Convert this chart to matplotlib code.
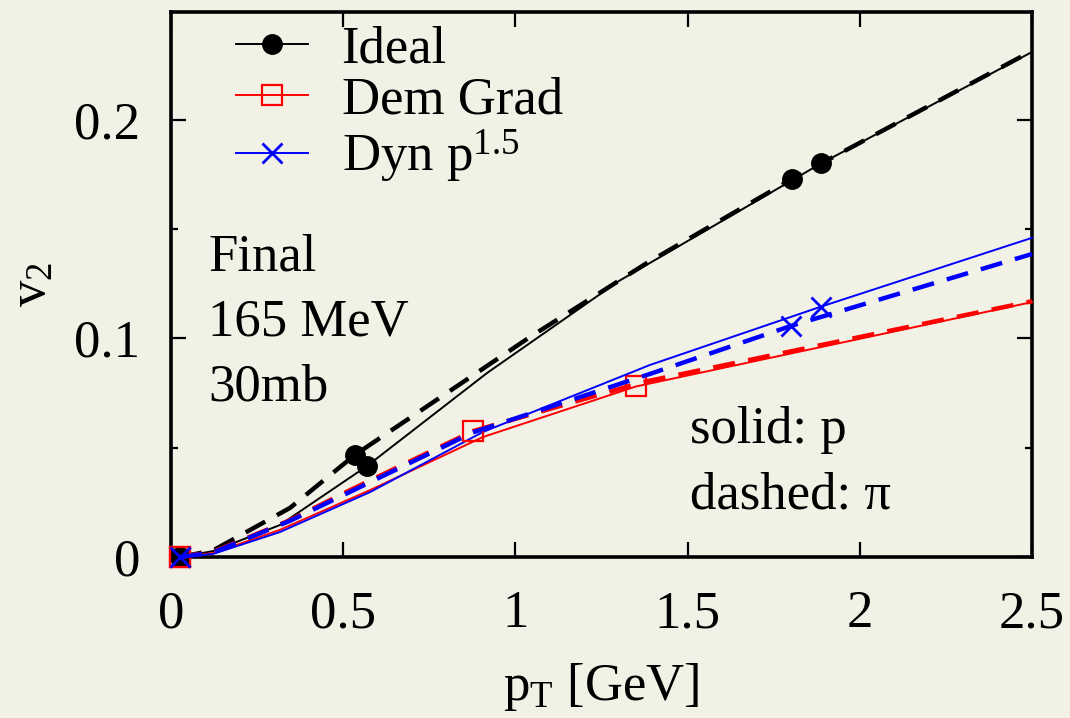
import matplotlib
matplotlib.use("Agg")
import matplotlib.pyplot as plt
from matplotlib.lines import Line2D

plt.rcParams['font.family'] = ['Liberation Serif', 'DejaVu Serif']
plt.rcParams['mathtext.fontset'] = 'custom'
plt.rcParams['mathtext.rm'] = 'Liberation Serif'
plt.rcParams['mathtext.it'] = 'Liberation Serif:italic'
plt.rcParams['mathtext.default'] = 'rm'

# ---------------- data ----------------
# Ideal
ideal_p_x = [0.026, 0.122, 0.316, 0.569, 0.918, 1.30, 1.887, 2.5]
ideal_p_y = [0.0, 0.0027, 0.0146, 0.0416, 0.0842, 0.1262, 0.1800, 0.231]
ideal_p_mark = [0, 3, 6]
ideal_pi_x = [0.026, 0.122, 0.345, 0.534, 1.042, 1.382, 1.803, 2.5]
ideal_pi_y = [0.0, 0.003, 0.0224, 0.0467, 0.1006, 0.1345, 0.1729, 0.2315]
ideal_pi_mark = [0, 3, 6]
# Dem Grad
dem_p_x = [0.026, 0.122, 0.316, 0.578, 0.906, 1.35, 2.5]
dem_p_y = [0.0, 0.0018, 0.0124, 0.0306, 0.0549, 0.0780, 0.1166]
dem_p_mark = [0, 5]
dem_pi_x = [0.026, 0.122, 0.345, 0.52, 0.877, 1.37, 2.5]
dem_pi_y = [0.0, 0.0023, 0.0168, 0.0306, 0.0576, 0.0800, 0.1170]
dem_pi_mark = [0, 4]
# Dyn p^1.5
dyn_p_x = [0.026, 0.122, 0.316, 0.578, 0.906, 1.39, 1.887, 2.5]
dyn_p_y = [0.0, 0.0014, 0.0114, 0.0297, 0.0572, 0.0878, 0.1145, 0.146]
dyn_p_mark = [0, 6]
dyn_pi_x = [0.026, 0.122, 0.345, 0.52, 0.877, 1.39, 1.80, 2.5]
dyn_pi_y = [0.0, 0.0020, 0.0165, 0.0298, 0.0570, 0.0837, 0.1057, 0.1386]
dyn_pi_mark = [0, 6]

legend_labels = ['Ideal', 'Dem Grad', 'Dyn p$^{1.5}$']
x_ticks = [0, 0.5, 1, 1.5, 2, 2.5]
x_ticklabels = ['0', '0.5', '1', '1.5', '2', '2.5']
y_ticks = [0, 0.1, 0.2]
y_ticklabels = ['0', '0.1', '0.2']
y_minor = [0.05, 0.15]

# ---------------- figure ----------------
bg = '#f2f1e6'
fig = plt.figure(figsize=(10.7, 7.18), dpi=100, facecolor=bg)
ax = fig.add_axes([171/1070, 1 - 557/718, (1032-171)/1070, (557-12)/718])
ax.set_facecolor(bg)

FS = 38
lw_s = 1.4
lw_d = 3.2
dash = (5, 3)

circ = dict(marker='o', ms=14, mfc='black', mec='black')
sq = dict(marker='s', ms=15, mfc='none', mec='red', mew=1.6)
crs = dict(marker='x', ms=15, mec='blue', mew=2.0)

ax.plot(ideal_p_x, ideal_p_y, color='black', lw=lw_s, markevery=ideal_p_mark, clip_on=False, **circ)
ax.plot(dem_p_x, dem_p_y, color='red', lw=lw_s, markevery=dem_p_mark, clip_on=False, **sq)
ax.plot(dyn_p_x, dyn_p_y, color='blue', lw=lw_s, markevery=dyn_p_mark, clip_on=False, **crs)
ax.plot(ideal_pi_x, ideal_pi_y, color='black', lw=lw_d, dashes=dash, markevery=ideal_pi_mark, clip_on=False, **circ)
ax.plot(dem_pi_x, dem_pi_y, color='red', lw=lw_d, dashes=dash, markevery=dem_pi_mark, clip_on=False, **sq)
ax.plot(dyn_pi_x, dyn_pi_y, color='blue', lw=lw_d, dashes=dash, markevery=dyn_pi_mark, clip_on=False, **crs)

ax.set_xlim(0, 2.5)
ax.set_ylim(0, 0.2493)

ax.set_xticks(x_ticks)
ax.set_xticklabels(x_ticklabels, fontsize=FS)
ax.set_yticks(y_ticks)
ax.set_yticklabels(y_ticklabels, fontsize=FS)
ax.set_yticks(y_minor, minor=True)
ax.tick_params(axis='both', which='major', direction='in', length=11, width=1.6,
               top=True, right=True, colors='black')
ax.tick_params(axis='x', which='major', pad=24)
ax.tick_params(axis='y', which='major', pad=22)
ax.tick_params(axis='y', which='minor', direction='in', length=5, width=1.6, right=True)
for s in ax.spines.values():
    s.set_linewidth(2.6)
    s.set_color('black')
    s.set_zorder(1)

ax.set_xlabel('p$_\\mathrm{T}$ [GeV]', fontsize=FS, labelpad=16)
ax.set_ylabel('v$_2$', fontsize=FS)
ax.yaxis.set_label_coords(-0.133, 0.5)

# legend
handles = [
    Line2D([], [], color='black', lw=lw_s, **circ),
    Line2D([], [], color='red', lw=lw_s, **sq),
    Line2D([], [], color='blue', lw=lw_s, **crs),
]
leg = ax.legend(handles, legend_labels, loc='upper left', bbox_to_anchor=(0.0755, 0.975),
                frameon=False, fontsize=FS, handlelength=1.36, handletextpad=0.64,
                labelspacing=0.06, borderpad=0, borderaxespad=0, numpoints=1)

# annotations
for txt, yf in zip(['Final', '165 MeV', '30mb'], [0.5266, 0.4073, 0.288]):
    ax.text(0.043, yf, txt, transform=ax.transAxes, fontsize=FS, va='baseline', ha='left')
for txt, yf in zip(['solid: p', 'dashed: π'], [0.2092, 0.0899]):
    ax.text(0.603, yf, txt, transform=ax.transAxes, fontsize=FS, va='baseline', ha='left')

# edge of the neighbouring panel's label (cut off at the right edge, as in the reference)
fig.text(1063/1070, 1 - 295/718, 'v$_2$', rotation=90, fontsize=FS, ha='left', va='center')

fig.savefig('out.png', dpi=100, facecolor=bg)
